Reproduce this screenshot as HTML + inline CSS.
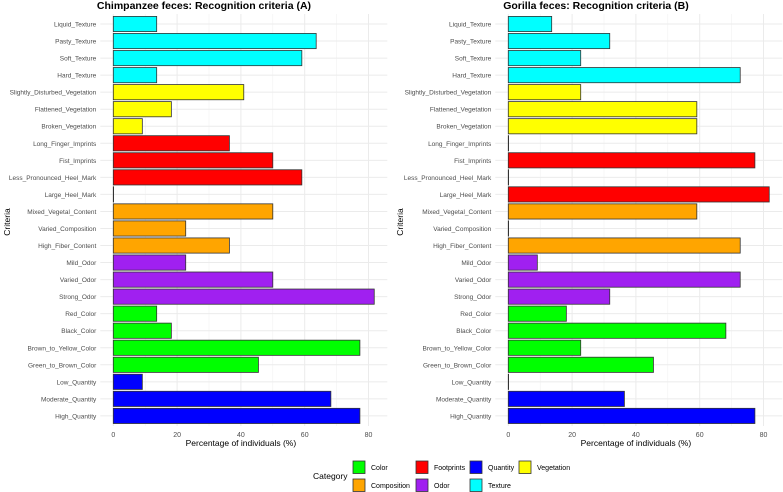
<!DOCTYPE html>
<html><head><meta charset="utf-8"><style>
body{margin:0;background:#fff}
svg{display:block;font-family:"Liberation Sans",sans-serif}
</style></head><body>
<svg id="c" width="783" height="492"></svg>
<script>
const criteria=["Liquid_Texture","Pasty_Texture","Soft_Texture","Hard_Texture","Slightly_Disturbed_Vegetation","Flattened_Vegetation","Broken_Vegetation","Long_Finger_Imprints","Fist_Imprints","Less_Pronounced_Heel_Mark","Large_Heel_Mark","Mixed_Vegetal_Content","Varied_Composition","High_Fiber_Content","Mild_Odor","Varied_Odor","Strong_Odor","Red_Color","Black_Color","Brown_to_Yellow_Color","Green_to_Brown_Color","Low_Quantity","Moderate_Quantity","High_Quantity"];
const categories=["Texture","Texture","Texture","Texture","Vegetation","Vegetation","Vegetation","Footprints","Footprints","Footprints","Footprints","Composition","Composition","Composition","Odor","Odor","Odor","Color","Color","Color","Color","Quantity","Quantity","Quantity"];
const chimpValues=[13.6,63.6,59.1,13.6,40.9,18.2,9.1,36.4,50,59.1,0,50,22.7,36.4,22.7,50,81.8,13.6,18.2,77.3,45.5,9.1,68.2,77.3];
const gorillaValues=[13.6,31.8,22.7,72.7,22.7,59.1,59.1,0,77.3,0,81.8,59.1,0,72.7,9.1,72.7,31.8,18.2,68.2,22.7,45.5,0,36.4,77.3];
const xTicks=[0,20,40,60,80];
const legendCats=["Color","Composition","Footprints","Odor","Quantity","Texture","Vegetation"];
const colors={Color:"#00FF00",Composition:"#FFA500",Footprints:"#FF0000",Odor:"#A020F0",Quantity:"#0000FF",Texture:"#00FFFF",Vegetation:"#FFFF00"};
const svg=document.getElementById('c');
const NS="http://www.w3.org/2000/svg";
function mk(t,a,p){const e=document.createElementNS(NS,t);for(const k in a)e.setAttribute(k,a[k]);(p||svg).appendChild(e);return e;}
function panel(x0,title,vals,name,titleX){
  const g=mk('g',{});
  
  
  const sx=v=>x0+v*3.19;
  const y0=24,dy=17.04;
  const sy=i=>y0+i*dy;
  const left=x0-13,right=x0+274;
  for(let v=10;v<=90;v+=20){if(sx(v)<=right)mk('line',{x1:sx(v),x2:sx(v),y1:14,y2:426,stroke:'#f2f2f2','stroke-width':0.6},g);}
  xTicks.forEach(v=>{mk('line',{x1:sx(v),x2:sx(v),y1:14,y2:426,stroke:'#ebebeb','stroke-width':1},g);
    const t=mk('text',{x:sx(v),y:437,'text-anchor':'middle','font-size':7,fill:'#4d4d4d'},g);t.textContent=v;
    
    });
  criteria.forEach((c,i)=>{
    mk('line',{x1:left,x2:right,y1:sy(i),y2:sy(i),stroke:'#ebebeb','stroke-width':1},g);
    const t=mk('text',{x:left-4,y:sy(i)+2.5,'text-anchor':'end','font-size':6.5,fill:'#4d4d4d'},g);t.textContent=c;
    
    
  });
  criteria.forEach((c,i)=>{
    const w=sx(vals[i])-sx(0);
    const r=mk('rect',{x:sx(0),y:sy(i)-7.6,width:Math.max(w,0.3),height:15.2,fill:colors[categories[i]],stroke:'#333','stroke-width':0.8},g);
    
    
  });
  const tt=mk('text',{x:titleX,y:9,'text-anchor':'middle','font-size':10.5,'font-weight':'bold',fill:'#000'},g);tt.textContent=title;
  
  
  const xt=mk('text',{x:sx(40),y:446,'text-anchor':'middle','font-size':8.5,fill:'#000'},g);xt.textContent="Percentage of individuals (%)";
  
  
}
panel(113.3,"Chimpanzee feces: Recognition criteria (A)",chimpValues,'chimpanzee-panel',204);
panel(508.3,"Gorilla feces: Recognition criteria (B)",gorillaValues,'gorilla-panel',596);
[[10,'y-axis-title-a'],[403,'y-axis-title-b']].forEach(([x,n])=>{
  const t=mk('text',{x:x,y:222,'text-anchor':'middle','font-size':8.5,transform:`rotate(-90 ${x} 222)`});t.textContent="Criteria";
  
  
});
const lt=mk('text',{x:313,y:479,'font-size':8.5});lt.textContent="Category";


const colX=[353,416,470,519];
legendCats.forEach((c,i)=>{
  const col=Math.floor(i/2),row=i%2;
  const x=colX[col],y=461+row*18;
  const g=mk('g',{});
  
  
  mk('rect',{x:x,y:y,width:12,height:12.5,fill:colors[c],stroke:'#333','stroke-width':0.8},g);
  const t=mk('text',{x:x+18,y:y+9,'font-size':7,fill:'#000'},g);t.textContent=c;
});
</script>
</body></html>
